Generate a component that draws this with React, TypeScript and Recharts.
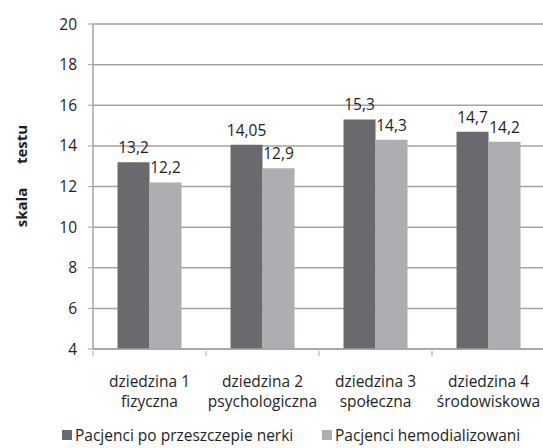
import React from 'react';
import {
  BarChart,
  Bar,
  XAxis,
  YAxis,
  CartesianGrid,
  Legend,
  LabelList,
} from 'recharts';

// domain names, two lines each
const categories = [
  'dziedzina 1|fizyczna',
  'dziedzina 2|psychologiczna',
  'dziedzina 3|społeczna',
  'dziedzina 4|środowiskowa',
];
const transplantScores = [13.2, 14.05, 15.3, 14.7];
const dialysisScores = [12.2, 12.9, 14.3, 14.2];
const yTicks = [4, 6, 8, 10, 12, 14, 16, 18, 20];

const seriesNames = ['Pacjenci po przeszczepie nerki', 'Pacjenci hemodializowani'];
const colors = ['#6a6a6e', '#adaeb1'];

const FONT = '"Open Sans", sans-serif';
const FS = 15.5;
const TEXT = '#1e1e1e';
const GRID = '#a3a3a3';

const data = categories.map((name, i) => ({
  name,
  transplant: transplantScores[i],
  dialysis: dialysisScores[i],
}));

const toComma = (v: any) => String(v).replace('.', ',');

// two-line category label plus a small tick at the left edge of each band
const CategoryTick = (props: any) => {
  const { x, y, payload } = props;
  const half = payload && payload.offset ? payload.offset : 56.5;
  const [line1, line2] = String(payload.value).split('|');
  return (
    <g>
      <line x1={x - half} x2={x - half} y1={y} y2={y + 5} stroke={GRID} />
      <text x={x} y={y} textAnchor="middle" fill={TEXT} fontSize={FS} fontFamily={FONT}>
        <tspan x={x} dy={36}>{line1}</tspan>
        <tspan x={x} dy={20}>{line2}</tspan>
      </text>
    </g>
  );
};

const AxisTitle = (props: any) => {
  const vb = props.viewBox || { x: 0, y: 0, width: 0, height: 0 };
  const cy = vb.y + vb.height / 2;
  const cx = 21;
  const style = { fontFamily: FONT, fontSize: 15, fontWeight: 700, fill: TEXT };
  return (
    <g>
      <text x={cx} y={cy + 21} transform={`rotate(-90 ${cx} ${cy + 21})`} textAnchor="middle" dominantBaseline="central" style={style}>
        skala
      </text>
      <text x={cx} y={cy - 42} transform={`rotate(-90 ${cx} ${cy - 42})`} textAnchor="middle" dominantBaseline="central" style={style}>
        testu
      </text>
    </g>
  );
};

const LegendBox = () => (
  <div style={{ position: 'relative', width: 543, height: 18, fontFamily: FONT, fontSize: FS, lineHeight: '18px', color: TEXT }}>
    {seriesNames.map((s, i) => (
      <div
        key={s}
        style={{ position: 'absolute', left: i === 0 ? 62 : 322, top: 0, height: 18, display: 'flex', alignItems: 'center', whiteSpace: 'nowrap' }}
      >
        <span style={{ display: 'inline-block', width: 10, height: 10, background: colors[i], marginRight: 3 }} />
        <span>{s}</span>
      </div>
    ))}
  </div>
);

export default function App() {
  return (
    <div style={{ width: 543, height: 448, overflow: 'hidden', background: '#fff', position: 'relative' }}>
      <style>{'body{margin:0}'}</style>
      <BarChart
        width={543}
        height={448}
        data={data}
        margin={{ top: 24, right: -2, left: 20, bottom: 0 }}
        barCategoryGap="21.7%"
        barGap={0}
      >
        <CartesianGrid vertical={false} stroke={GRID} strokeWidth={1.5} />
        <XAxis
          dataKey="name"
          axisLine={{ stroke: GRID, strokeWidth: 1.5 }}
          tickLine={false}
          tickSize={0}
          tick={<CategoryTick />}
          height={99}
          interval={0}
        />
        <YAxis
          width={73}
          domain={[4, 20]}
          ticks={yTicks}
          allowDataOverflow
          axisLine={{ stroke: GRID, strokeWidth: 1.5 }}
          tickLine={{ stroke: GRID }}
          tickSize={5}
          tickMargin={11}
          tick={{ fill: TEXT, fontSize: FS, fontFamily: FONT }}
          label={{ content: (p: any) => <AxisTitle {...p} /> }}
        />
        <Legend
          verticalAlign="middle"
          layout="horizontal"
          wrapperStyle={{ top: 426, left: 0, width: 543, height: 18 }}
          content={() => <LegendBox />}
        />
        <Bar dataKey="transplant" name={seriesNames[0]} fill={colors[0]} isAnimationActive={false}>
          <LabelList dataKey="transplant" position="top" offset={9} formatter={toComma} fill={TEXT} fontSize={FS} fontFamily={FONT} />
        </Bar>
        <Bar dataKey="dialysis" name={seriesNames[1]} fill={colors[1]} isAnimationActive={false}>
          <LabelList dataKey="dialysis" position="top" offset={9} formatter={toComma} fill={TEXT} fontSize={FS} fontFamily={FONT} />
        </Bar>
      </BarChart>
    </div>
  );
}
